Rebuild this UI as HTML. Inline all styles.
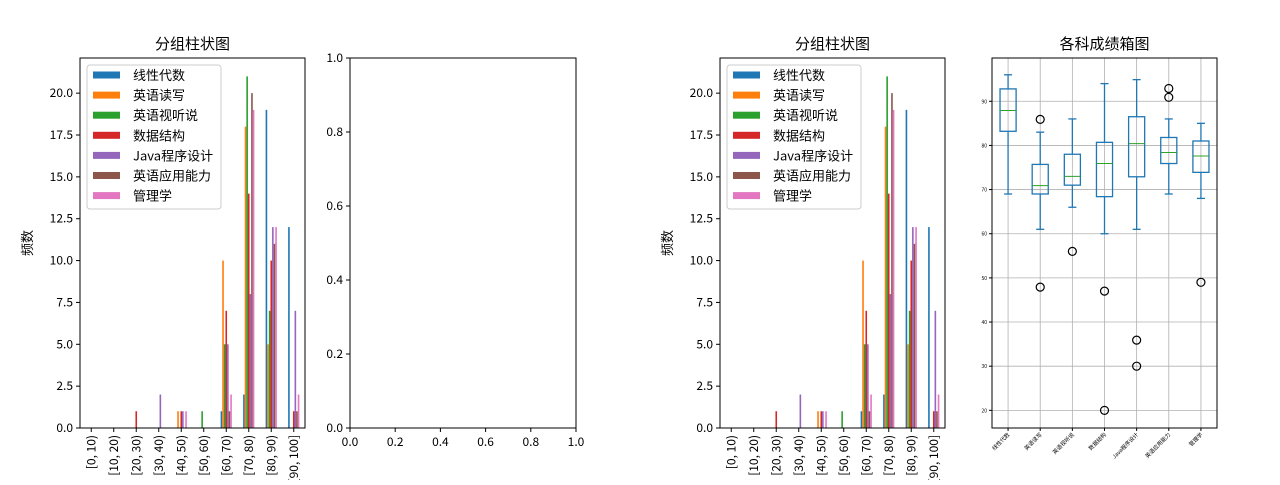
<!DOCTYPE html>
<html><head><meta charset="utf-8"><style>
body{margin:0;background:#fff;}
svg text{font-family:"WenQuanYi Zen Hei","Noto Sans CJK SC",sans-serif;}
</style></head><body>
<svg id="chart" width="1280" height="480" xmlns="http://www.w3.org/2000/svg"></svg>
<script>
const categories=["[0, 10)","[10, 20)","[20, 30)","[30, 40)","[40, 50)","[50, 60)","[60, 70)","[70, 80)","[80, 90)","[90, 100]"];
const seriesNames=["线性代数","英语读写","英语视听说","数据结构","Java程序设计","英语应用能力","管理学"];
const s0=[0,0,0,0,0,0,1,2,19,12];
const s1=[0,0,0,0,1,0,10,18,5,0];
const s2=[0,0,0,0,0,1,5,21,7,0];
const s3=[0,0,1,0,1,0,7,14,10,1];
const s4=[0,0,0,2,1,0,5,8,12,7];
const s5=[0,0,0,0,0,0,1,20,11,1];
const s6=[0,0,0,0,1,0,2,19,12,2];
const seriesValues=[s0,s1,s2,s3,s4,s5,s6];
const yTicks=[0,2.5,5,7.5,10,12.5,15,17.5,20];
const emptyTicks=[0,0.2,0.4,0.6,0.8,1.0];
const boxLabels=["线性代数","英语读写","英语视听说","数据结构","Java程序设计","英语应用能力","管理学"];
const boxWhiskerLow=[69,61,66,60,61,69,68];
const boxQ1=[83.2,69,71,68.4,72.9,75.9,73.9];
const boxMedian=[87.9,70.9,73,75.9,80.4,78.4,77.6];
const boxQ3=[92.8,75.7,78,80.7,86.5,81.8,81];
const boxWhiskerHigh=[96,83,86,94,94.9,86,85];
const boxOutliers=[[],[85.9,47.9],[56],[47,20],[35.9,30],[92.9,90.9],[49]];
const boxTicks=[20,30,40,50,60,70,80,90];
const colors=["#1f77b4","#ff7f0e","#2ca02c","#d62728","#9467bd","#8c564b","#e377c2"];

const svg=document.getElementById('chart');
const NS="http://www.w3.org/2000/svg";
function mk(tag,attrs,parent){const e=document.createElementNS(NS,tag);for(const k in attrs)e.setAttribute(k,attrs[k]);(parent||svg).appendChild(e);return e;}
function txt(s,attrs,parent){const e=mk('text',attrs,parent);e.textContent=s;return e;}

const T=58,B=428;
function drawBar(x0,x1,pre){
  const g=mk('g',{});
  
  
  const n=categories.length;
  const xs=i=>x0+(i+0.5)*(x1-x0)/n;
  const ymax=22.1;
  const ys=v=>B-v*(B-T)/ymax;
  const bw=0.5/7*(x1-x0)/n;
  seriesValues.forEach((arr,si)=>{
    arr.forEach((v,i)=>{
      if(v<=0)return;
      const r=mk('rect',{x:xs(i)-0.25*(x1-x0)/n+si*bw,y:ys(v),width:bw,height:B-ys(v),fill:colors[si]},g);
      
      
    });
  });
  mk('rect',{x:x0,y:T,width:x1-x0,height:B-T,fill:'none',stroke:'#000','stroke-width':1},g);
  yTicks.forEach(t=>{
    mk('line',{x1:x0-4,x2:x0,y1:ys(t),y2:ys(t),stroke:'#000'},g);
    const l=txt(t.toFixed(1),{x:x0-7,y:ys(t)+4,'text-anchor':'end','font-size':12},g);
    
    
  });
  categories.forEach((c,i)=>{
    mk('line',{x1:xs(i),x2:xs(i),y1:B,y2:B+4,stroke:'#000'},g);
    const l=txt(c,{x:0,y:0,'text-anchor':'end','font-size':12,transform:`translate(${xs(i)+4},${B+7}) rotate(-90)`},g);
    
    
  });
  const tt=txt('分组柱状图',{x:(x0+x1)/2,y:49,'text-anchor':'middle','font-size':15},g);
  
  
  const yl=txt('频数',{x:0,y:0,'text-anchor':'middle','font-size':13,transform:`translate(${x0-48},243) rotate(-90)`},g);
  
  
  const lg=mk('g',{},g);
  
  
  mk('rect',{x:x0+7,y:65,width:134,height:144,rx:3,fill:'#fff',stroke:'#ccc'},lg);
  seriesNames.forEach((s,i)=>{
    const y=75+i*20.1;
    mk('rect',{x:x0+13,y:y-3.5,width:27,height:7,fill:colors[i]},lg);
    const l=txt(s,{x:x0+53,y:y+5,'font-size':13},lg);
    
    
  });
}
drawBar(80,305,'left-');
drawBar(720,945,'right-');

(function(){
  const x0=350,x1=576;
  const g=mk('g',{});
  
  
  mk('rect',{x:x0,y:T,width:x1-x0,height:B-T,fill:'none',stroke:'#000'},g);
  emptyTicks.forEach(t=>{
    const y=B-t*(B-T),x=x0+t*(x1-x0);
    mk('line',{x1:x0-4,x2:x0,y1:y,y2:y,stroke:'#000'},g);
    mk('line',{x1:x,x2:x,y1:B,y2:B+4,stroke:'#000'},g);
    const a=txt(t.toFixed(1),{x:x0-7,y:y+4,'text-anchor':'end','font-size':12},g);
    
    
    const b=txt(t.toFixed(1),{x:x,y:B+18,'text-anchor':'middle','font-size':12},g);
    
    
  });
})();

(function(){
  const x0=992,x1=1217;
  const g=mk('g',{});
  
  
  const ymin=16,ymax=99.8;
  const ys=v=>B-(v-ymin)*(B-T)/(ymax-ymin);
  const n=boxLabels.length;
  const xs=i=>x0+(i+0.5)*(x1-x0)/n;
  boxTicks.forEach(t=>{
    mk('line',{x1:x0,x2:x1,y1:ys(t),y2:ys(t),stroke:'#b0b0b0','stroke-width':0.8},g);
    mk('line',{x1:x0-3,x2:x0,y1:ys(t),y2:ys(t),stroke:'#000'},g);
    const l=txt(String(t),{x:x0-5,y:ys(t)+2,'text-anchor':'end','font-size':5},g);
    
    
  });
  boxLabels.forEach((s,i)=>{
    mk('line',{x1:xs(i),x2:xs(i),y1:T,y2:B,stroke:'#b0b0b0','stroke-width':0.8},g);
  });
  const hw=0.25*(x1-x0)/n, cw=hw/2;
  boxLabels.forEach((s,i)=>{
    const x=xs(i);
    const bg=mk('g',{},g);
    
    
    const st={stroke:'#1f77b4','stroke-width':1.3,fill:'none'};
    mk('rect',Object.assign({x:x-hw,y:ys(boxQ3[i]),width:2*hw,height:ys(boxQ1[i])-ys(boxQ3[i])},st),bg);
    mk('line',Object.assign({x1:x,x2:x,y1:ys(boxQ3[i]),y2:ys(boxWhiskerHigh[i])},st),bg);
    mk('line',Object.assign({x1:x,x2:x,y1:ys(boxQ1[i]),y2:ys(boxWhiskerLow[i])},st),bg);
    mk('line',Object.assign({x1:x-cw,x2:x+cw,y1:ys(boxWhiskerHigh[i]),y2:ys(boxWhiskerHigh[i])},st),bg);
    mk('line',Object.assign({x1:x-cw,x2:x+cw,y1:ys(boxWhiskerLow[i]),y2:ys(boxWhiskerLow[i])},st),bg);
    mk('line',{x1:x-hw,x2:x+hw,y1:ys(boxMedian[i]),y2:ys(boxMedian[i]),stroke:'#2ca02c','stroke-width':1},bg);
    boxOutliers[i].forEach(v=>{
      const c=mk('circle',{cx:x,cy:ys(v),r:4,fill:'none',stroke:'#000','stroke-width':1.2},bg);
      
      
    });
    mk('line',{x1:x,x2:x,y1:B,y2:B+3,stroke:'#000'},g);
    const l=txt(s,{x:0,y:0,'text-anchor':'end','font-size':5.5,transform:`translate(${x+2},${B+7}) rotate(-45)`},g);
    
    
  });
  mk('rect',{x:x0,y:T,width:x1-x0,height:B-T,fill:'none',stroke:'#000'},g);
  const tt=txt('各科成绩箱图',{x:(x0+x1)/2,y:49,'text-anchor':'middle','font-size':15},g);
  
  
})();
</script>
</body></html>
